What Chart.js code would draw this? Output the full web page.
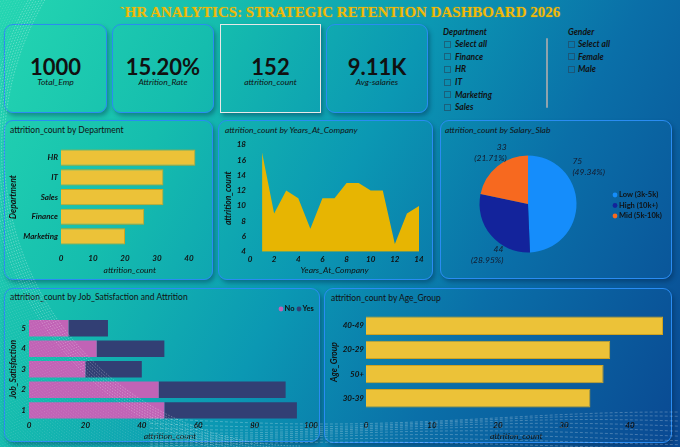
<!DOCTYPE html>
<html><head><meta charset="utf-8">
<script src="https://cdn.jsdelivr.net/npm/chart.js@4.4.1/dist/chart.umd.min.js"></script>
<style>
html,body{margin:0;padding:0;}
body{width:680px;height:447px;overflow:hidden;position:relative;font-family:Lato,'Open Sans',sans-serif;color:#111;
background:linear-gradient(118deg,#24d6b1 0%,#15bdae 25%,#0b98b3 48%,#0a6fa8 70%,#0a4892 100%);}
.abs{position:absolute;}
.panel{position:absolute;border:1.5px solid #2a8cf2;border-radius:9px;box-shadow:2px 3px 4px rgba(0,30,60,0.35);box-sizing:border-box;}
.card{position:absolute;border:1.5px solid #2a8cf2;border-radius:9px;box-shadow:2px 3px 4px rgba(0,30,60,0.35);box-sizing:border-box;}
.card.sel{border:1.5px solid #e8e8e8;border-radius:0;}
.kv{position:absolute;left:0;right:0;text-align:center;font-weight:700;font-size:22px;line-height:22px;}
.kl{position:absolute;left:0;right:0;text-align:center;font-style:italic;font-size:8.5px;line-height:10px;}
.ptitle{position:absolute;font-size:8.5px;line-height:10px;white-space:nowrap;}
.sl{position:absolute;font-size:8.5px;font-style:italic;font-weight:700;line-height:10px;white-space:nowrap;}
.box{position:absolute;width:7px;height:7px;border:1px solid rgba(40,60,80,0.55);box-sizing:border-box;}
canvas{position:absolute;}
#title{position:absolute;left:0;width:680px;top:4px;text-align:center;font-family:'Liberation Serif','Times New Roman',serif;font-weight:700;font-size:15px;line-height:17px;color:#f2b807;white-space:nowrap;text-shadow:0 0 2px rgba(255,200,0,0.35);}
</style></head>
<body>
<div id="title"></div>
<div id="kpis"></div>
<div id="slicers"></div>
<div class="panel" style="left:4px;top:120px;width:209px;height:160px;"></div>
<div class="panel" style="left:218px;top:120px;width:215px;height:160px;"></div>
<div class="panel" style="left:440px;top:120px;width:232px;height:159px;"></div>
<div class="panel" style="left:4px;top:288px;width:316px;height:154px;"></div>
<div class="panel" style="left:324px;top:288px;width:348px;height:155px;"></div>
<div class="ptitle" style="left:10px;top:125px;">attrition_count by Department</div>
<div class="ptitle" style="left:225px;top:125px;font-style:italic;">attrition_count by Years_At_Company</div>
<div class="ptitle" style="left:445px;top:125px;font-style:italic;">attrition_count by Salary_Slab</div>
<div class="ptitle" style="left:10px;top:292px;">attrition_count by Job_Satisfaction and Attrition</div>
<div class="ptitle" style="left:331px;top:293px;">attrition_count by Age_Group</div>
<canvas id="cDept" width="207" height="138" style="left:5px;top:140px;"></canvas>
<canvas id="cYears" width="213" height="142" style="left:219px;top:136px;"></canvas>
<canvas id="cPie" width="230" height="138" style="left:441px;top:138px;"></canvas>
<canvas id="cJob" width="314" height="142" style="left:5px;top:300px;"></canvas>
<canvas id="cAge" width="345" height="142" style="left:326px;top:300px;"></canvas>
<canvas id="deco" width="680" height="447" style="left:0;top:0;pointer-events:none;"></canvas>
<script>
// ---------- DATA ----------
const dashTitle = "`HR ANALYTICS: STRATEGIC RETENTION DASHBOARD 2026";
const kpiValues = ["1000", "15.20%", "152", "9.11K"];
const kpiLabels = ["Total_Emp", "Attrition_Rate", "attrition_count", "Avg-salaries"];
const deptSlicer = ["Select all", "Finance", "HR", "IT", "Marketing", "Sales"];
const genderSlicer = ["Select all", "Female", "Male"];

const deptCats = ["HR", "IT", "Sales", "Finance", "Marketing"];
const deptCounts = [42, 32, 32, 26, 20];
const deptTicks = [0, 10, 20, 30, 40];

const yearsAt = [1, 2, 3, 4, 5, 6, 7, 8, 9, 10, 11, 12, 13, 14];
const yearsCounts = [17, 9, 12, 11, 7, 11, 11, 13, 13, 12, 12, 5, 9, 10];

const salaryCats = ["Low (3k-5k)", "High (10k+)", "Mid (5k-10k)"];
const salaryCounts = [75, 44, 33];

const jobCats = ["5", "4", "3", "2", "1"];
const jobNo = [14, 24, 20, 46, 48];
const jobYes = [14, 24, 20, 45, 47];
const jobTicks = [0, 20, 40, 60, 80, 100];

const ageCats = ["40-49", "20-29", "50+", "30-39"];
const ageCounts = [45, 37, 36, 34];
const ageTicks = [0, 10, 20, 30, 40];

// ---------- HTML parts ----------
document.getElementById('title').textContent = dashTitle;
const cardPos = [[4,24,103,89],[112,24,102,89],[220,24,101,89],[326,24,102,89]];
let kh = '';
kpiValues.forEach((v,i)=>{
  const p = cardPos[i];
  kh += `<div class="card${i===2?' sel':''}" style="left:${p[0]}px;top:${p[1]}px;width:${p[2]}px;height:${p[3]}px;">
  <div class="kv" style="top:31px;">${v}</div><div class="kl" style="top:52px;">${kpiLabels[i]}</div></div>`;
});
document.getElementById('kpis').innerHTML = kh;
let sh = '<div class="sl" style="left:443px;top:27px;">Department</div><div class="sl" style="left:568px;top:27px;">Gender</div>';
const rowY = [44, 56.7, 69.3, 82, 94.7, 107.3];
deptSlicer.forEach((t,i)=>{ sh += `<div class="box" style="left:444px;top:${rowY[i]-3.5}px;"></div><div class="sl" style="left:455px;top:${rowY[i]-5}px;">${t}</div>`; });
genderSlicer.forEach((t,i)=>{ sh += `<div class="box" style="left:568px;top:${rowY[i]-3.5}px;"></div><div class="sl" style="left:578px;top:${rowY[i]-5}px;">${t}</div>`; });
sh += '<div class="abs" style="left:546px;top:38px;width:2px;height:70px;background:#8fa3ad;border-radius:1px;"></div>';
document.getElementById('slicers').innerHTML = sh;

// ---------- Charts ----------
Chart.defaults.font.family = "Lato, 'Open Sans', sans-serif";
Chart.defaults.color = '#111';
Chart.defaults.animation = false;
const tickFont = {size: 8, style: 'italic', weight: 'bold'};
const titleFont = {size: 8.5, style: 'italic'};
const fixW = w => s => { s.width = w; };
const fixH = h => s => { s.height = h; };
const setTicks = arr => s => { s.ticks = arr.map(v => ({value: v})); };
const baseOpts = {responsive:false, devicePixelRatio:1, animation:false, plugins:{legend:{display:false}, tooltip:{enabled:false}}};
const barColor = '#ecc238', barBorder = '#cfa321';

new Chart(document.getElementById('cDept'), {
  type: 'bar',
  data: {labels: deptCats, datasets: [{data: deptCounts, backgroundColor: barColor, borderColor: barBorder, borderWidth: 1, barPercentage: 0.82, categoryPercentage: 1}]},
  options: Object.assign({}, baseOpts, {
    indexAxis: 'y',
    layout: {padding: {top: 3.7, right: 13.4, left: 0, bottom: 0}},
    scales: {
      x: {min: 0, max: 43, afterBuildTicks: setTicks(deptTicks), afterFit: fixH(31.7), grid: {display: false, drawTicks: false}, border: {display: false},
          ticks: {autoSkip: false, maxRotation: 0, font: tickFont, padding: 6.9}, title: {display: true, text: 'attrition_count', font: titleFont, padding: {top: 0, bottom: 2.9}}},
      y: {afterFit: fixW(56), grid: {display: false, drawTicks: false}, border: {display: false},
          ticks: {font: tickFont, padding: 3}, title: {display: true, text: 'Department', font: {size: 8.5, style: 'italic', weight: 'bold'}, padding: {top: 2.9, bottom: 0}}}
    }
  })
});

new Chart(document.getElementById('cYears'), {
  type: 'line',
  data: {datasets: [{data: yearsAt.map((x,i)=>({x: x, y: yearsCounts[i]})), fill: 'start', backgroundColor: '#e7b502', borderWidth: 0, pointRadius: 0, tension: 0}]},
  options: Object.assign({}, baseOpts, {
    layout: {padding: {top: 4, right: 13, left: 0, bottom: 0}},
    scales: {
      x: {type: 'linear', min: 0, max: 14, afterFit: fixH(26.3), grid: {display: false, drawTicks: false}, border: {display: false},
          ticks: {stepSize: 2, font: tickFont, padding: 2.5}, title: {display: true, text: 'Years_At_Company', font: titleFont, padding: {top: 0, bottom: 2.9}}},
      y: {min: 4, max: 18, afterFit: fixW(31), grid: {display: false, drawTicks: false}, border: {display: false},
          ticks: {stepSize: 2, font: tickFont, padding: 4}, title: {display: true, text: 'attrition_count', font: {size: 8.5, style: 'italic', weight: 'bold'}, padding: {top: 3.9, bottom: 0}}}
    }
  })
});

const pieColors = ['#158dfb', '#13239b', '#f7691f'];
const labelFrac = [0.28, 0.27, 0.71];
const labelDist = [1.2, 1.17, 1.14];
const pieLabels = {
  id: 'pieLabels',
  afterDraw(chart) {
    const ctx = chart.ctx;
    const total = salaryCounts.reduce((a,b)=>a+b, 0);
    const meta = chart.getDatasetMeta(0);
    ctx.save();
    ctx.font = "italic 8.5px Lato, 'Open Sans', sans-serif";
    ctx.fillStyle = '#14182a';
    ctx.textBaseline = 'middle';
    meta.data.forEach((arc, i) => {
      const p = arc.getProps(['x','y','startAngle','endAngle','outerRadius'], true);
      const a = p.startAngle + labelFrac[i] * (p.endAngle - p.startAngle);
      const r = p.outerRadius * labelDist[i];
      const lx = p.x + Math.cos(a) * r, ly = p.y + Math.sin(a) * r;
      ctx.textAlign = Math.cos(a) >= 0 ? 'left' : 'right';
      ctx.fillText(String(salaryCounts[i]), lx, ly - 5.5);
      ctx.fillText('(' + (salaryCounts[i] / total * 100).toFixed(2) + '%)', lx, ly + 5.5);
    });
    ctx.font = "bold 7.5px Lato, 'Open Sans', sans-serif";
    ctx.textAlign = 'left';
    salaryCats.forEach((c, i) => {
      const y = chart.chartArea.top + 39.5 + i * 10.5;
      const x = chart.chartArea.right + 38.5;
      ctx.fillStyle = pieColors[i];
      ctx.beginPath(); ctx.arc(x, y, 2.4, 0, Math.PI * 2); ctx.fill();
      ctx.fillStyle = '#111';
      ctx.fillText(c, x + 4, y);
    });
    ctx.restore();
  }
};
new Chart(document.getElementById('cPie'), {
  type: 'pie',
  data: {labels: salaryCats, datasets: [{data: salaryCounts, backgroundColor: pieColors, borderWidth: 0}]},
  options: Object.assign({}, baseOpts, {layout: {padding: {left: 38.5, right: 94.5, top: 17.5, bottom: 23.5}}}),
  plugins: [pieLabels]
});

const jobColors = ['#c163b6', '#323f74'];
const jobNames = ['No', 'Yes'];
const jobLegend = {
  id: 'jobLegend',
  afterDraw(chart) {
    const ctx = chart.ctx;
    ctx.save();
    ctx.font = "bold 7.5px Lato, 'Open Sans', sans-serif";
    ctx.textBaseline = 'middle'; ctx.textAlign = 'left';
    const xs = [276, 294];
    jobNames.forEach((n, i) => {
      ctx.fillStyle = jobColors[i];
      ctx.beginPath(); ctx.arc(xs[i], 9, 2.4, 0, Math.PI * 2); ctx.fill();
      ctx.fillStyle = '#111';
      ctx.fillText(n, xs[i] + 3.5, 9);
    });
    ctx.restore();
  }
};
new Chart(document.getElementById('cJob'), {
  type: 'bar',
  data: {labels: jobCats, datasets: [
    {label: jobNames[0], data: jobNo, backgroundColor: jobColors[0], barPercentage: 0.8, categoryPercentage: 1},
    {label: jobNames[1], data: jobYes, backgroundColor: jobColors[1], barPercentage: 0.8, categoryPercentage: 1}]},
  options: Object.assign({}, baseOpts, {
    indexAxis: 'y',
    layout: {padding: {top: 18, right: 8, left: 0, bottom: 0}},
    scales: {
      x: {stacked: true, min: 0, max: 100, afterBuildTicks: setTicks(jobTicks), afterFit: fixH(21.4), grid: {display: false, drawTicks: false}, border: {display: false},
          ticks: {autoSkip: false, maxRotation: 0, font: tickFont, padding: 0.5}, title: {display: true, text: 'attrition_count', font: titleFont, padding: {top: 0, bottom: 0.6}}},
      y: {stacked: true, afterFit: fixW(24), grid: {display: false, drawTicks: false}, border: {display: false},
          ticks: {font: tickFont, padding: 3}, title: {display: true, text: 'Job_Satisfaction', font: {size: 8.5, style: 'italic', weight: 'bold'}, padding: {top: 3.6, bottom: 0}}}
    }
  }),
  plugins: [jobLegend]
});

new Chart(document.getElementById('cAge'), {
  type: 'bar',
  data: {labels: ageCats, datasets: [{data: ageCounts, backgroundColor: barColor, borderColor: barBorder, borderWidth: 1, barPercentage: 0.76, categoryPercentage: 1}]},
  options: Object.assign({}, baseOpts, {
    indexAxis: 'y',
    layout: {padding: {top: 13.6, right: 4.7, left: 0, bottom: 0}},
    scales: {
      x: {min: 0, max: 45.5, afterBuildTicks: setTicks(ageTicks), afterFit: fixH(31.6), grid: {display: false, drawTicks: false}, border: {display: false},
          ticks: {autoSkip: false, maxRotation: 0, font: tickFont, padding: 9.8}, title: {display: true, text: 'attrition_count', font: titleFont, padding: {top: 0, bottom: 0.9}}},
      y: {afterFit: fixW(40), grid: {display: false, drawTicks: false}, border: {display: false},
          ticks: {font: tickFont, padding: 2}, title: {display: true, text: 'Age_Group', font: {size: 8.5, style: 'italic', weight: 'bold'}, padding: {top: 3.6, bottom: 0}}}
    }
  })
});

// ---------- decorative background swirl ----------
(function(){
  const c = document.getElementById('deco').getContext('2d');
  c.save();
  c.beginPath(); c.rect(0, 0, 330, 447); c.clip();
  c.lineWidth = 0.6;
  c.setLineDash([1.5, 1.5]);
  for (let r = 296; r < 470; r += 2.4) {
    const al = r < 312 ? 0.55 : 0.24;
    c.strokeStyle = 'rgba(255,255,255,' + al + ')';
    c.beginPath(); c.arc(300, 150, r, Math.PI * 0.5, Math.PI * 1.5); c.stroke();
  }
  c.restore();
  c.save();
  c.lineWidth = 0.7;
  c.setLineDash([3, 2]);
  for (let k = 0; k < 9; k++) {
    c.strokeStyle = 'rgba(255,255,255,0.35)';
    c.beginPath();
    for (let x = 150; x <= 680; x += 4) {
      const y = 418 + k * 3.4 + 6 * Math.sin((x - 150) / 110 + k * 0.35) * (1 - k * 0.06);
      if (x === 150) c.moveTo(x, y); else c.lineTo(x, y);
    }
    c.stroke();
  }
  c.restore();
})();
</script>
</body></html>
